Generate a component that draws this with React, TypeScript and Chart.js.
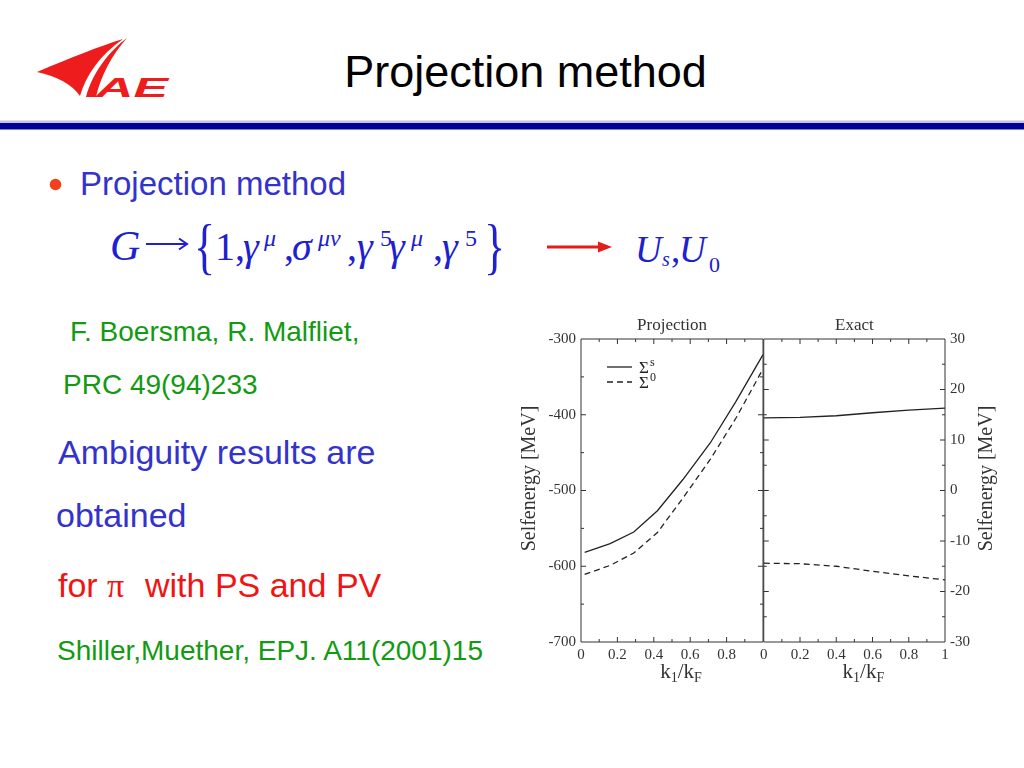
import React, { useEffect, useRef } from 'react';
import { Chart, registerables } from 'chart.js';

Chart.register(...registerables);

// ---------------- data ----------------
const projectionK = [0.02, 0.16, 0.29, 0.42, 0.56, 0.71, 0.85, 1.0];
const projectionSigmaS = [-581.7, -570.2, -554.8, -526.7, -485.5, -437.3, -383.0, -320.7];
const projectionSigma0 = [-610.7, -598.9, -582.5, -555.5, -510.0, -459.0, -405.0, -339.6];

const exactK = [0, 0.2, 0.4, 0.6, 0.8, 1.0];
const exactSigmaS = [14.4, 14.5, 14.8, 15.4, 15.9, 16.3];
const exactSigma0 = [-14.4, -14.5, -15.0, -16.0, -16.9, -17.7];

const seriesBase = ['Σ', 'Σ'];
const seriesSup = ['s', '0'];
const seriesLabels = ['Σˢ', 'Σ⁰'];
const panelTitles = ['Projection', 'Exact'];
const yAxisTitle = 'Selfenergy [MeV]';
const xAxisTitleParts: [string, string][] = [['k', '1'], ['/k', 'F']];

// ---------------- styles ----------------
const SERIF = '"Liberation Serif", "Times New Roman", serif';
const SANS = '"Liberation Sans", Arial, sans-serif';
const INK = '#222222';
const TEXT = '#333333';

const framePlugin = {
  id: 'panelFrame',
  afterDatasetsDraw(chart: any, _args: any, opts: any) {
    const { ctx, chartArea: a } = chart;
    const xs = chart.scales.x;
    const ys = chart.scales.y;
    ctx.save();
    ctx.strokeStyle = opts.color;
    ctx.lineWidth = 1;
    ctx.setLineDash([]);
    ctx.beginPath();
    ctx.rect(a.left, a.top, a.right - a.left, a.bottom - a.top);
    const nx = Math.round((xs.max - xs.min) / opts.xMinor);
    const rx = Math.round(opts.xMajor / opts.xMinor);
    for (let i = 1; i < nx; i++) {
      const px = xs.getPixelForValue(xs.min + i * opts.xMinor);
      const len = i % rx === 0 ? opts.major : opts.minor;
      ctx.moveTo(px, a.bottom);
      ctx.lineTo(px, a.bottom - len);
      ctx.moveTo(px, a.top);
      ctx.lineTo(px, a.top + len);
    }
    const ny = Math.round((ys.max - ys.min) / opts.yMinor);
    const ry = Math.round(opts.yMajor / opts.yMinor);
    for (let i = 1; i < ny; i++) {
      const py = ys.getPixelForValue(ys.min + i * opts.yMinor);
      const len = i % ry === 0 ? opts.major : opts.minor;
      ctx.moveTo(a.left, py);
      ctx.lineTo(a.left + len, py);
      ctx.moveTo(a.right, py);
      ctx.lineTo(a.right - len, py);
    }
    ctx.stroke();
    ctx.restore();
  },
};

const sigmaLegendPlugin = {
  id: 'sigmaLegend',
  afterDatasetsDraw(chart: any, _args: any, opts: any) {
    if (!opts.display) return;
    const { ctx, chartArea: a } = chart;
    ctx.save();
    chart.data.datasets.forEach((ds: any, i: number) => {
      const y = a.top + opts.top + i * opts.rowGap;
      ctx.strokeStyle = ds.borderColor;
      ctx.lineWidth = ds.borderWidth;
      ctx.setLineDash(ds.borderDash || []);
      ctx.beginPath();
      ctx.moveTo(a.left + opts.lineStart, y);
      ctx.lineTo(a.left + opts.lineEnd, y);
      ctx.stroke();
      ctx.setLineDash([]);
      ctx.fillStyle = opts.color;
      ctx.textAlign = 'left';
      ctx.textBaseline = 'alphabetic';
      const tx = a.left + opts.textStart;
      ctx.font = `17px ${SERIF}`;
      ctx.fillText(seriesBase[i], tx, y + 6);
      const w = ctx.measureText(seriesBase[i]).width;
      ctx.font = `12px ${SERIF}`;
      ctx.fillText(seriesSup[i], tx + w + 1, y - 1);
    });
    ctx.restore();
  },
};

const kTitlePlugin = {
  id: 'kTitle',
  afterDraw(chart: any, _args: any, opts: any) {
    const { ctx, chartArea: a } = chart;
    const xs = chart.scales.x;
    const main = `${opts.size}px ${SERIF}`;
    const sub = `${opts.subSize}px ${SERIF}`;
    ctx.save();
    ctx.fillStyle = opts.color;
    ctx.textAlign = 'left';
    ctx.textBaseline = 'alphabetic';
    let total = 0;
    xAxisTitleParts.forEach(([m, s]) => {
      ctx.font = main;
      total += ctx.measureText(m).width;
      ctx.font = sub;
      total += ctx.measureText(s).width;
    });
    let x = (a.left + a.right) / 2 + opts.shift - total / 2;
    const y = xs.bottom - opts.bottomGap;
    xAxisTitleParts.forEach(([m, s]) => {
      ctx.font = main;
      ctx.fillText(m, x, y);
      x += ctx.measureText(m).width;
      ctx.font = sub;
      ctx.fillText(s, x, y + opts.subDrop);
      x += ctx.measureText(s).width;
    });
    ctx.restore();
  },
};

const sideTitlePlugin = {
  id: 'sideTitle',
  afterDraw(chart: any, _args: any, opts: any) {
    const { ctx, chartArea: a } = chart;
    const ys = chart.scales.y;
    const cx = opts.side === 'left' ? ys.left + opts.offset : ys.right - opts.offset;
    const cy = (a.top + a.bottom) / 2 + opts.shiftY;
    ctx.save();
    ctx.translate(cx, cy);
    ctx.rotate(-Math.PI / 2);
    ctx.font = `${opts.size}px ${SERIF}`;
    ctx.fillStyle = opts.color;
    ctx.textAlign = 'center';
    ctx.textBaseline = 'middle';
    ctx.fillText(opts.text, 0, 0);
    ctx.restore();
  },
};

type PanelSpec = {
  title: string;
  xs: number[];
  sS: number[];
  s0: number[];
  yMin: number;
  yMax: number;
  yStep: number;
  yMinor: number;
  side: 'left' | 'right';
  axisWidth: number;
  hideLastX: boolean;
  padLeft: number;
  padRight: number;
  legend: boolean;
  sideOffset: number;
};

function makePanel(p: PanelSpec): any {
  const tickFont = { family: SERIF, size: 15 };
  return {
    type: 'line',
    data: {
      datasets: [
        {
          label: seriesLabels[0],
          data: p.xs.map((x, i) => ({ x, y: p.sS[i] })),
          borderColor: INK,
          borderWidth: 1.3,
          pointRadius: 0,
          tension: 0,
          fill: false,
        },
        {
          label: seriesLabels[1],
          data: p.xs.map((x, i) => ({ x, y: p.s0[i] })),
          borderColor: INK,
          borderWidth: 1.3,
          borderDash: [6, 4],
          pointRadius: 0,
          tension: 0,
          fill: false,
        },
      ],
    },
    options: {
      animation: false,
      responsive: false,
      maintainAspectRatio: false,
      events: [],
      layout: { padding: { left: p.padLeft, right: p.padRight, top: 0, bottom: 0 } },
      plugins: {
        legend: { display: false },
        tooltip: { enabled: false },
        title: {
          display: true,
          text: p.title,
          fullSize: false,
          color: TEXT,
          font: { family: SERIF, size: 17, weight: 'normal' },
          padding: { top: 10, bottom: 3.6 },
        },
        panelFrame: { color: TEXT, xMinor: 0.1, xMajor: 0.2, yMinor: p.yMinor, yMajor: p.yStep, major: 5, minor: 3 },
        sigmaLegend: { display: p.legend, color: INK, top: 28, rowGap: 15, lineStart: 26, lineEnd: 51, textStart: 58 },
        kTitle: { color: TEXT, size: 21, subSize: 14, shift: 9, bottomGap: 12, subDrop: 4 },
        sideTitle: { text: yAxisTitle, side: p.side, offset: p.sideOffset, shiftY: -12, size: 20, color: TEXT },
      },
      scales: {
        x: {
          type: 'linear',
          min: 0,
          max: 1,
          afterFit: (s: any) => {
            s.height = 48;
          },
          grid: { display: false, drawTicks: false },
          border: { display: false },
          ticks: {
            stepSize: 0.2,
            padding: 4,
            color: TEXT,
            font: tickFont,
            maxRotation: 0,
            autoSkip: false,
            callback: (v: any) => {
              const n = Math.round(Number(v) * 10) / 10;
              if (p.hideLastX && n === 1) return '';
              return String(n);
            },
          },
        },
        y: {
          type: 'linear',
          position: p.side,
          min: p.yMin,
          max: p.yMax,
          afterFit: (s: any) => {
            s.width = p.axisWidth;
          },
          grid: { display: false, drawTicks: false },
          border: { display: false },
          ticks: {
            stepSize: p.yStep,
            padding: 5,
            color: TEXT,
            font: tickFont,
            autoSkip: false,
            callback: (v: any) => String(Math.round(Number(v))),
          },
        },
      },
    },
    plugins: [framePlugin, sigmaLegendPlugin, kTitlePlugin, sideTitlePlugin],
  };
}

export default function App() {
  const leftRef = useRef<HTMLCanvasElement>(null);
  const rightRef = useRef<HTMLCanvasElement>(null);

  useEffect(() => {
    const charts: Chart[] = [];
    if (leftRef.current) {
      charts.push(
        new Chart(
          leftRef.current,
          makePanel({
            title: panelTitles[0],
            xs: projectionK,
            sS: projectionSigmaS,
            s0: projectionSigma0,
            yMin: -700,
            yMax: -300,
            yStep: 100,
            yMinor: 50,
            side: 'left',
            axisWidth: 81,
            hideLastX: true,
            padLeft: 0,
            padRight: 7,
            legend: true,
            sideOffset: 30,
          })
        )
      );
    }
    if (rightRef.current) {
      charts.push(
        new Chart(
          rightRef.current,
          makePanel({
            title: panelTitles[1],
            xs: exactK,
            sS: exactSigmaS,
            s0: exactSigma0,
            yMin: -30,
            yMax: 30,
            yStep: 10,
            yMinor: 5,
            side: 'right',
            axisWidth: 79,
            hideLastX: false,
            padLeft: 7,
            padRight: 0,
            legend: false,
            sideOffset: 37,
          })
        )
      );
    }
    return () => charts.forEach((c) => c.destroy());
  }, []);

  const blue = '#3333cc';
  const fblue = '#2020d0';
  const green = '#129a12';
  const red = '#f01414';
  const logoRed = '#ee1c1c';

  return (
    <div style={{ position: 'absolute', left: 0, top: 0, width: 1024, height: 768, background: '#ffffff', overflow: 'hidden' }}>
      <svg width={1024} height={768} style={{ position: 'absolute', left: 0, top: 0 }}>
        <rect x={0} y={0} width={1024} height={768} fill="#ffffff" />
        {/* logo */}
        <path d="M37,72 C70,58 100,46 123,39 C100,55 86,75 80,96 C72,84 56,76 37,72 Z" fill={logoRed} />
        <path d="M127,38 C112,55 101,75 96,97 L86,97 C92,74 108,52 127,38 Z" fill={logoRed} />
        <text x={96} y={97} fontFamily={SANS} fontWeight="bold" fontStyle="italic" fontSize={27} fill={logoRed} textLength={72} lengthAdjust="spacingAndGlyphs">AE</text>

        {/* title */}
        <text x={525.5} y={87} textAnchor="middle" fontFamily={SANS} fontSize={45} fill="#000000">Projection method</text>
        <rect x={0} y={120.5} width={1024} height={2.5} fill="#c4c4ec" />
        <rect x={0} y={123} width={1024} height={6.5} fill="#000099" />

        {/* bullet */}
        <circle cx={55.5} cy={184.5} r={5.8} fill="#f2401a" />
        <text x={80} y={195} fontFamily={SANS} fontSize={33} fill={blue}>Projection method</text>

        {/* formula */}
        <text x={110} y={260} fontFamily={SERIF} fontStyle="italic" fontSize={42} fill={fblue}>G</text>
        <path d="M146,244 L186,244 M179,238.5 L187,244 L179,249.5" stroke={fblue} strokeWidth={2} fill="none" />
        <text transform="translate(194,267) scale(1,1.4)" fontFamily={SERIF} fontSize={44} fill={fblue}>{'{'}</text>
        <text x={215} y={260} fontFamily={SERIF} fontSize={40} fill={fblue}>1,</text>
        <text x={243} y={260} fontFamily={SERIF} fontStyle="italic" fontSize={40} fill={fblue}>γ</text>
        <text x={264} y={246} fontFamily={SERIF} fontStyle="italic" fontSize={24} fill={fblue}>μ</text>
        <text x={284} y={260} fontFamily={SERIF} fontSize={40} fill={fblue}>,</text>
        <text x={292} y={260} fontFamily={SERIF} fontStyle="italic" fontSize={40} fill={fblue}>σ</text>
        <text x={318} y={246} fontFamily={SERIF} fontStyle="italic" fontSize={24} fill={fblue}>μν</text>
        <text x={347} y={260} fontFamily={SERIF} fontSize={40} fill={fblue}>,</text>
        <text x={357} y={260} fontFamily={SERIF} fontStyle="italic" fontSize={40} fill={fblue}>γ</text>
        <text x={380} y={246} fontFamily={SERIF} fontSize={24} fill={fblue}>5</text>
        <text x={389} y={260} fontFamily={SERIF} fontStyle="italic" fontSize={40} fill={fblue}>γ</text>
        <text x={411} y={246} fontFamily={SERIF} fontStyle="italic" fontSize={24} fill={fblue}>μ</text>
        <text x={433} y={260} fontFamily={SERIF} fontSize={40} fill={fblue}>,</text>
        <text x={442} y={260} fontFamily={SERIF} fontStyle="italic" fontSize={40} fill={fblue}>γ</text>
        <text x={465} y={246} fontFamily={SERIF} fontSize={24} fill={fblue}>5</text>
        <text transform="translate(484,267) scale(1,1.4)" fontFamily={SERIF} fontSize={44} fill={fblue}>{'}'}</text>

        {/* red arrow */}
        <path d="M547,247 L600,247" stroke="#e51c1c" strokeWidth={3} />
        <polygon points="598,241.5 612,247 598,252.5" fill="#e51c1c" />
        <text x={635} y={262} fontFamily={SERIF} fontStyle="italic" fontSize={37} fill={fblue}>U</text>
        <text x={662} y={266} fontFamily={SERIF} fontStyle="italic" fontSize={20} fill={fblue}>s</text>
        <text x={671} y={262} fontFamily={SERIF} fontSize={37} fill={fblue}>,</text>
        <text x={679} y={262} fontFamily={SERIF} fontStyle="italic" fontSize={37} fill={fblue}>U</text>
        <text x={709} y={272} fontFamily={SERIF} fontSize={22} fill={fblue}>0</text>

        {/* body text */}
        <text x={70} y={341} fontFamily={SANS} fontSize={28} fill={green}>F. Boersma, R. Malfliet,</text>
        <text x={63} y={394} fontFamily={SANS} fontSize={28} fill={green}>PRC 49(94)233</text>
        <text x={58} y={464} fontFamily={SANS} fontSize={34} fill={blue}>Ambiguity results are</text>
        <text x={56} y={527} fontFamily={SANS} fontSize={34} fill={blue}>obtained</text>
        <text y={597} fontSize={34} fill={red}>
          <tspan x={58} fontFamily={SANS}>for</tspan>
          <tspan x={107} fontFamily={SERIF}>π</tspan>
          <tspan x={145} fontFamily={SANS}>with PS and PV</tspan>
        </text>
        <text x={57} y={660} fontFamily={SANS} fontSize={28} fill={green}>Shiller,Muether, EPJ. A11(2001)15</text>
      </svg>
      <canvas ref={leftRef} width={270} height={385} style={{ position: 'absolute', left: 500, top: 305, width: 270, height: 385 }} />
      <canvas ref={rightRef} width={268} height={385} style={{ position: 'absolute', left: 756, top: 305, width: 268, height: 385 }} />
    </div>
  );
}
